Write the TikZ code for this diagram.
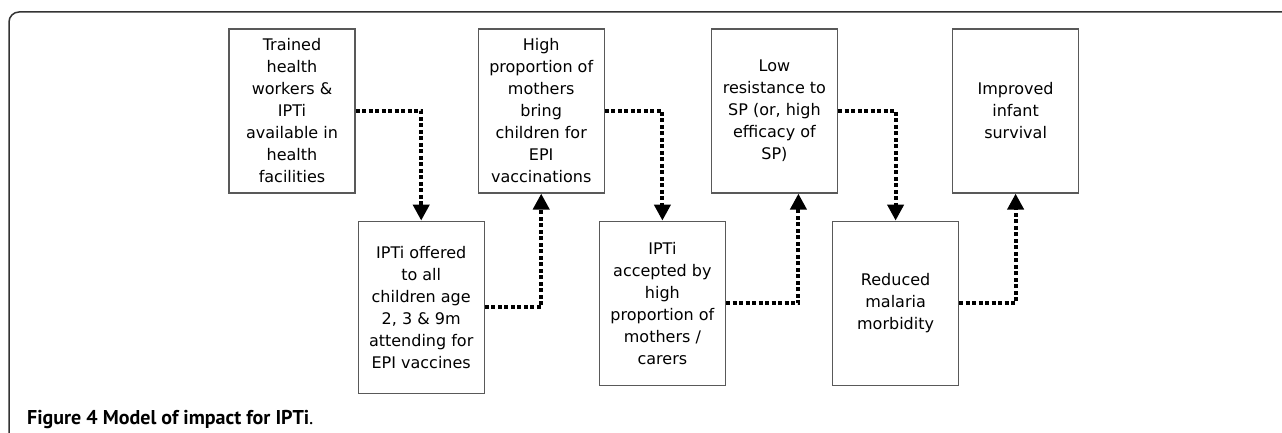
\documentclass[tikz,border=0pt]{standalone}
\usepackage{fontspec}
\setmainfont{DejaVu Sans}
\newfontfamily\captionfont{PT Sans}
\usepackage{tikz}
\usetikzlibrary{positioning,arrows.meta}
\newcommand{\figtitle}[2]{{\captionfont\bfseries #1~#2}{\captionfont .}}

\begin{document}
\begin{tikzpicture}[
    x=1pt, y=-1pt,
    every node/.style={inner sep=0pt},
    box/.style={
        draw=black!65,
        line width=1.2pt,
        minimum width=126pt,
        minimum height=164pt,
        align=center,
        font=\fontsize{16}{22}\selectfont
      },
    link/.style={
        line width=4pt,
        dash pattern=on 4pt off 2.5pt,
        -{Triangle[width=16pt,length=16pt]}
      },
    frame/.style={
        draw=black!80,
        line width=1.5pt,
        rounded corners=10pt
      }
    ]

    \useasboundingbox (0,0) rectangle (1282,433);

    % ============= CADRE ==================
    \draw[frame] (9,433) |- (1282,12);

    % ============= LIGNE DU HAUT ==================

    % -------------------------------
    \node[box] (TW) at (292,111) {
      Trained\\health\\workers \&\\IPTi\\available in\\health\\facilities
    };
    % -------------------------------

    % -------------------------------
    \node[box, right=122pt of TW] (HP) {
      High\\proportion of\\mothers\\bring\\children for\\EPI\\vaccinations
    };
    % -------------------------------

    % -------------------------------
    \node[box, right=106pt of HP] (LR) {
      Low\\resistance to\\SP (or, high\\efficacy of\\SP)
    };
    % -------------------------------

    % -------------------------------
    \node[box, right=114pt of LR] (IS) {
      Improved\\infant\\survival
    };
    % -------------------------------

    % ============= LIGNE DU BAS ==================

    % -------------------------------
    \node[box, minimum height=172pt, below right=27pt and 2pt of TW] (IO) {
      IPTi offered\\to all\\children age\\2, 3 \& 9m\\attending for\\EPI vaccines
    };
    % -------------------------------

    % -------------------------------
    \node[box, below right=0pt and 114pt of IO.north east] (IA) {
      IPTi\\accepted by\\high\\proportion of\\mothers /\\carers
    };
    % -------------------------------

    % -------------------------------
    \node[box, below right=0pt and 106pt of IA.north east] (RM) {
      Reduced\\malaria\\morbidity
    };
    % -------------------------------

    % ============= LEGENDE ==================
    \node[anchor=base west, font=\fontsize{20}{24}\selectfont] (FIG) at (27,424) {
      \figtitle{Figure 4}{Model of impact for IPTi}
    };

    % ============= LIGNES ==================
    \draw[link] (TW) -| (IO);
    \draw[link] (IO) -| (HP);
    \draw[link] (HP) -| (IA);
    \draw[link] (IA) -| ([xshift=24pt]LR.south);
    \draw[link] (LR) -| (RM);
    \draw[link] (RM) -| (IS);

  \end{tikzpicture}
\end{document}
